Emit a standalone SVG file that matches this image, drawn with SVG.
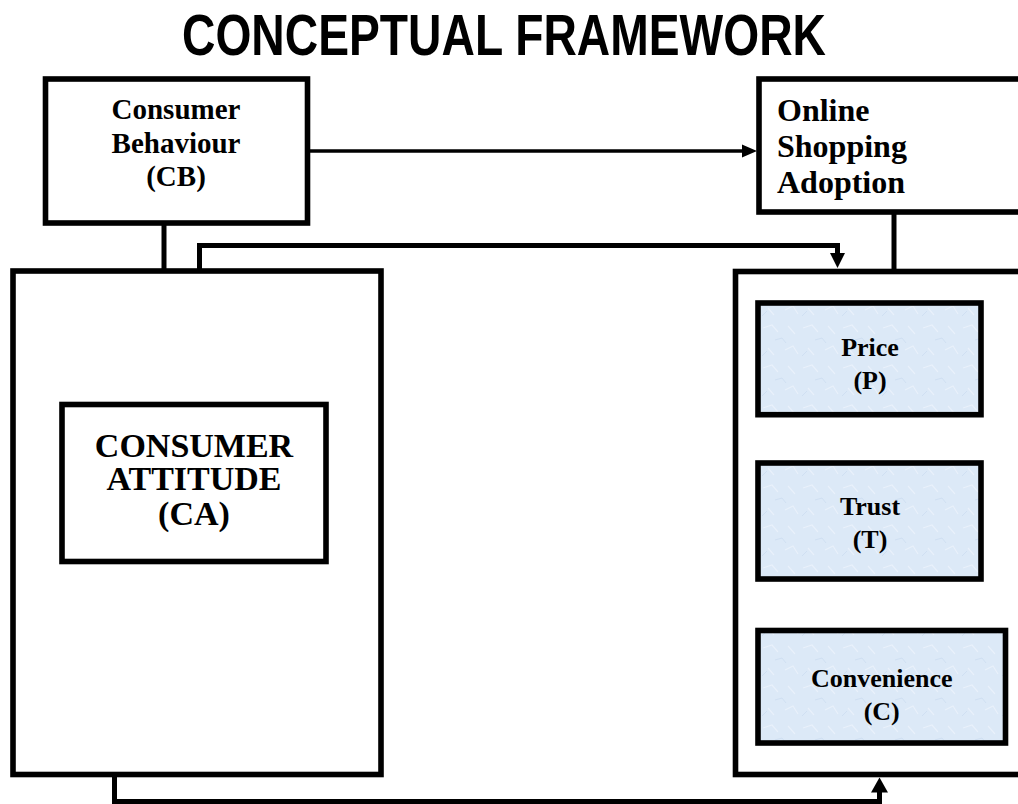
<svg xmlns="http://www.w3.org/2000/svg" width="1018" height="804" viewBox="0 0 1018 804">
<style>
.box{fill:#ffffff;stroke:#000;stroke-width:5.6}
.inner{fill:#dce9f7;stroke:#000;stroke-width:5.6}
.t{font-family:"Liberation Serif","Times New Roman",serif;font-weight:bold;fill:#000}
.c{text-anchor:middle}
.ln{fill:none;stroke:#000;stroke-width:5}
.thin{fill:none;stroke:#000;stroke-width:3.5}
</style>
<defs>
<pattern id="tex" width="40" height="40" patternUnits="userSpaceOnUse">
<rect width="40" height="40" fill="#dce9f7"/>
<path d="M3 8 L12 5 L18 12 M25 30 L33 26 L38 34 M8 28 L14 35 M28 6 L35 14" stroke="#e9f1fb" stroke-width="1.2" fill="none"/>
<path d="M15 20 L22 18 L26 23 M2 36 L7 31" stroke="#cfdff2" stroke-width="1" fill="none"/>
</pattern>
</defs>
<rect width="1018" height="804" fill="#ffffff"/>
<text x="504" y="55" font-family="'Liberation Sans',Arial,sans-serif" font-weight="bold" font-size="58" text-anchor="middle" textLength="644" lengthAdjust="spacingAndGlyphs">CONCEPTUAL FRAMEWORK</text>

<g id="connectors">
<path class="thin" d="M301 151 H743"/>
<polygon points="757,151 742,144.5 742,157.5"/>
<path class="ln" d="M164 223 V271"/>
<path class="ln" d="M894 212 V271"/>
<path class="ln" d="M199.5 271 V245.5 H837.5 V254"/>
<polygon points="837.5,268 830,253 845,253"/>
<path class="ln" d="M114.5 777 V801.5 H879.5 V791"/>
<polygon points="879.5,777.5 871,792.5 888,792.5"/>
</g>

<g id="consumer-behaviour">
<rect class="box" x="45.5" y="79" width="262" height="144"/>
<text class="t c" font-size="29" x="176" y="119">Consumer</text>
<text class="t c" font-size="29" x="176" y="153">Behaviour</text>
<text class="t c" font-size="29" x="176" y="186">(CB)</text>
</g>

<g id="online-shopping-adoption">
<rect class="box" x="759" y="79" width="300" height="133"/>
<text class="t" font-size="32" x="777" y="121">Online</text>
<text class="t" font-size="32" x="777" y="157">Shopping</text>
<text class="t" font-size="32" x="777" y="192.5">Adoption</text>
</g>

<g id="consumer-attitude-group">
<rect class="box" x="13" y="271" width="368" height="503.5"/>
</g>

<g id="consumer-attitude">
<rect class="box" x="62" y="404.5" width="264" height="157"/>
<text class="t c" font-size="34" x="194" y="456.5">CONSUMER</text>
<text class="t c" font-size="34" x="194" y="490">ATTITUDE</text>
<text class="t c" font-size="34" x="194" y="525">(CA)</text>
</g>

<g id="factors-group">
<rect class="box" x="735.5" y="271.5" width="300" height="503"/>
</g>

<g id="price">
<rect class="inner" style="fill:url(#tex)" x="758" y="303" width="223" height="111.7"/>
<text class="t c" font-size="26" x="870" y="356">Price</text>
<text class="t c" font-size="26" x="870" y="388.5">(P)</text>
</g>

<g id="trust">
<rect class="inner" style="fill:url(#tex)" x="758" y="463" width="223" height="116"/>
<text class="t c" font-size="26" x="870" y="515">Trust</text>
<text class="t c" font-size="26" x="870" y="548">(T)</text>
</g>

<g id="convenience">
<rect class="inner" style="fill:url(#tex)" x="758" y="630.5" width="247.5" height="112.5"/>
<text class="t c" font-size="26" x="881.7" y="687">Convenience</text>
<text class="t c" font-size="26" x="881.7" y="720">(C)</text>
</g>
</svg>
